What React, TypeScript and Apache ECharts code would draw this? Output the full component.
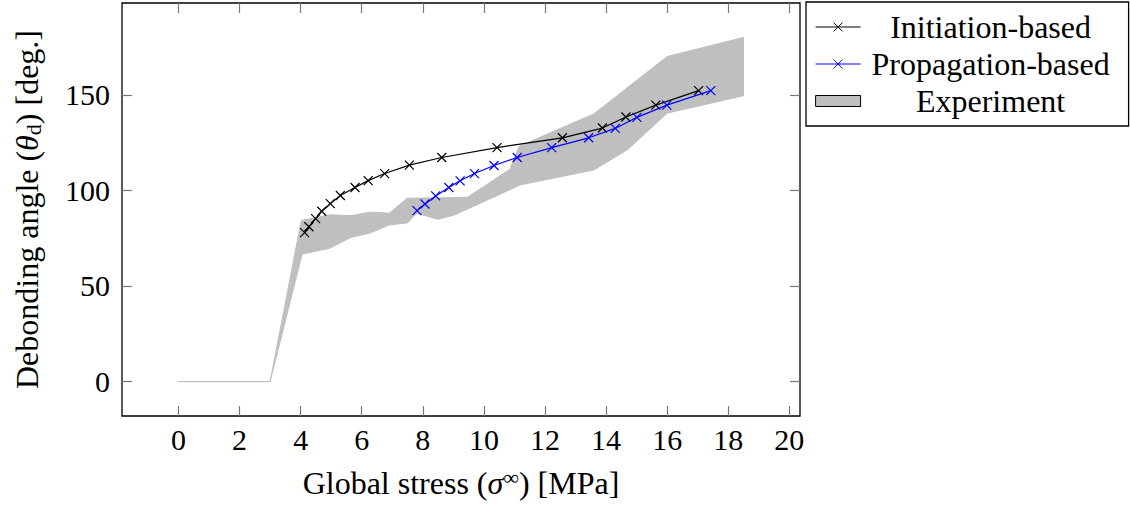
import React, { useEffect, useRef } from "react";
import * as echarts from "echarts";

const xTicks = [0, 2, 4, 6, 8, 10, 12, 14, 16, 18, 20];
const yTicks = [0, 50, 100, 150];

const initX = [4.13, 4.27, 4.49, 4.69, 4.97, 5.3, 5.78, 6.21, 6.75, 7.56, 8.62, 10.43, 12.57, 13.88, 14.65, 15.63, 17.03];
const initY = [77.9, 81.0, 85.2, 89.1, 93.1, 97.3, 101.5, 105.1, 108.8, 113.2, 117.2, 122.4, 127.5, 132.6, 138.4, 144.6, 152.2];

const propX = [7.81, 8.07, 8.42, 8.85, 9.22, 9.69, 10.33, 11.09, 12.22, 13.43, 14.3, 15.01, 15.99, 17.43];
const propY = [89.4, 92.9, 97.1, 101.5, 105.0, 108.8, 113.0, 117.2, 122.4, 127.5, 132.4, 138.2, 144.6, 152.2];

const expUpperX = [0, 3.0, 4.02, 4.95, 5.66, 6.26, 6.9, 7.49, 9.45, 10.85, 11.15, 13.6, 16.0, 18.5];
const expUpperY = [0, 0, 84.2, 87.2, 86.8, 88.6, 88.1, 95.9, 96.3, 111, 123, 140, 170, 180];
const expLowerX = [0, 3.0, 4.05, 4.95, 5.66, 6.26, 6.9, 7.5, 7.8, 8.5, 9.05, 11.2, 13.6, 14.7, 16.0, 18.5];
const expLowerY = [0, 0, 66.7, 69.7, 75.5, 77.6, 81.9, 83.0, 88.0, 84.9, 87.2, 102.9, 110.7, 121.2, 140.4, 149.5];

const FONT = "'Liberation Serif', 'Times New Roman', serif";
const CROSS = "path://M0,0L10,10M0,10L10,0";

export default function App() {
  const ref = useRef<HTMLDivElement>(null);
  useEffect(() => {
    if (!ref.current) return;
    const chart = echarts.init(ref.current, undefined, { renderer: "svg" });
    const tickStyle = { color: "#777", width: 1.2 };
    const xBase = {
      type: "value",
      min: -1.85,
      max: 20.35,
      splitLine: { show: false },
      axisLine: { show: false, onZero: false },
    };
    const yBase = {
      type: "value",
      min: -18,
      max: 198,
      splitLine: { show: false },
      axisLine: { show: false, onZero: false },
    };
    chart.setOption({
      animation: false,
      textStyle: { fontFamily: FONT },
      grid: {
        left: 122,
        right: 330,
        top: 3,
        bottom: 90,
        show: true,
        borderColor: "#000",
        borderWidth: 1.3,
        backgroundColor: "transparent",
      },
      xAxis: [
        {
          ...xBase,
          position: "bottom",
          axisTick: { inside: true, length: 10, customValues: xTicks, lineStyle: tickStyle },
          axisLabel: {
            customValues: xTicks,
            margin: 8,
            fontFamily: FONT,
            fontSize: 30,
            lineHeight: 30,
            color: "#000",
          },
          name: "Global stress ({it|σ}{sup|∞}) [MPa]",
          nameLocation: "middle",
          nameGap: 50,
          nameTextStyle: {
            fontFamily: FONT,
            fontSize: 32,
            lineHeight: 34,
            color: "#000",
            rich: {
              it: { fontFamily: FONT, fontSize: 32, fontStyle: "italic", lineHeight: 34, color: "#000" },
              sup: { fontFamily: FONT, fontSize: 22, lineHeight: 22, verticalAlign: "top", color: "#000" },
            },
          },
        },
        {
          ...xBase,
          position: "top",
          axisTick: { inside: true, length: 10, customValues: xTicks, lineStyle: tickStyle },
          axisLabel: { show: false },
        },
      ],
      yAxis: [
        {
          ...yBase,
          position: "left",
          axisTick: { inside: true, length: 10, customValues: yTicks, lineStyle: tickStyle },
          axisLabel: {
            customValues: yTicks,
            margin: 12,
            fontFamily: FONT,
            fontSize: 30,
            color: "#000",
          },
          name: "Debonding angle ({it|θ}{sub|d}) [deg.]",
          nameLocation: "middle",
          nameGap: 78,
          nameRotate: 90,
          nameTextStyle: {
            fontFamily: FONT,
            fontSize: 32,
            lineHeight: 34,
            color: "#000",
            rich: {
              it: { fontFamily: FONT, fontSize: 32, fontStyle: "italic", lineHeight: 34, color: "#000" },
              sub: { fontFamily: FONT, fontSize: 22, lineHeight: 18, verticalAlign: "bottom", color: "#000" },
            },
          },
        },
        {
          ...yBase,
          position: "right",
          axisTick: { inside: true, length: 10, customValues: yTicks, lineStyle: tickStyle },
          axisLabel: { show: false },
        },
      ],
      legend: {
        orient: "vertical",
        left: 806,
        top: 2,
        padding: [8, 13, 8, 9],
        itemGap: 3,
        itemWidth: 45,
        itemHeight: 11,
        selectedMode: false,
        backgroundColor: "#fff",
        borderColor: "#000",
        borderWidth: 1.3,
        formatter: (n: string) => `{c|${n}}`,
        textStyle: {
          fontFamily: FONT,
          fontSize: 32,
          lineHeight: 34,
          color: "#000",
          rich: {
            c: { width: 250, align: "center", fontFamily: FONT, fontSize: 32, lineHeight: 34, color: "#000" },
          },
        },
        data: [
          {
            name: "Initiation-based",
            itemStyle: { color: "#000", borderColor: "#000", borderWidth: 1 },
            lineStyle: { color: "#000", width: 1.2 },
          },
          {
            name: "Propagation-based",
            itemStyle: { color: "#0000ff", borderColor: "#0000ff", borderWidth: 1 },
            lineStyle: { color: "#0000ff", width: 1.2 },
          },
          {
            name: "Experiment",
            icon: "rect",
            itemStyle: { color: "#bfbfbf", borderColor: "#000", borderWidth: 1 },
          },
        ],
      },
      series: [
        {
          name: "Experiment",
          type: "custom",
          z: 1,
          silent: true,
          data: [[0, 0]],
          encode: { x: 0, y: 1 },
          itemStyle: { color: "#bfbfbf" },
          renderItem: (_p: any, api: any) => {
            const pts: number[][] = [];
            for (let i = 0; i < expUpperX.length; i++) pts.push(api.coord([expUpperX[i], expUpperY[i]]));
            for (let i = expLowerX.length - 1; i >= 0; i--) pts.push(api.coord([expLowerX[i], expLowerY[i]]));
            return {
              type: "polygon",
              shape: { points: pts },
              style: { fill: "#bfbfbf", stroke: "#bfbfbf", lineWidth: 1 },
            };
          },
        },
        {
          name: "Initiation-based",
          type: "line",
          z: 3,
          data: initX.map((x, i) => [x, initY[i]]),
          symbol: CROSS,
          symbolSize: 9,
          lineStyle: { color: "#000", width: 1.2 },
          itemStyle: { color: "#000", borderColor: "#000", borderWidth: 1.2 },
        },
        {
          name: "Propagation-based",
          type: "line",
          z: 4,
          data: propX.map((x, i) => [x, propY[i]]),
          symbol: CROSS,
          symbolSize: 9,
          lineStyle: { color: "#0000ff", width: 1.2 },
          itemStyle: { color: "#0000ff", borderColor: "#0000ff", borderWidth: 1.2 },
        },
      ],
    });
    return () => chart.dispose();
  }, []);
  return (
    <div
      ref={ref}
      style={{ position: "fixed", left: 0, top: 0, width: 1130, height: 506, background: "#fff" }}
    />
  );
}
